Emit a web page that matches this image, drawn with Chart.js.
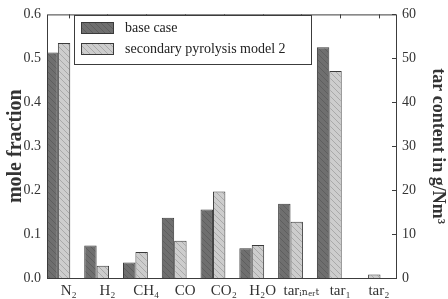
<!DOCTYPE html>
<html>
<head>
<meta charset="utf-8">
<script src="https://cdn.jsdelivr.net/npm/chart.js@4.4.0/dist/chart.umd.min.js"></script>
<style>
  html, body { margin: 0; padding: 0; background: #fff; }
  #wrap { width: 448px; height: 299px; }
</style>
</head>
<body>
<div id="wrap"><canvas id="chart"></canvas></div>
<script>
// categories (gas species + tar classes)
const categories = ['N₂', 'H₂', 'CH₄', 'CO', 'CO₂', 'H₂O', 'tarᵢₙₑᵣₜ', 'tar₁', 'tar₂'];
const gasNames = ['N₂', 'H₂', 'CH₄', 'CO', 'CO₂', 'H₂O'];
const tarNames = ['tarᵢₙₑᵣₜ', 'tar₁', 'tar₂'];

// mole fraction (left axis)
const gasBase = [0.513, 0.074, 0.035, 0.137, 0.156, 0.068];
const gasModel2 = [0.535, 0.028, 0.059, 0.085, 0.197, 0.075];

// tar content in g/Nm3 (right axis)
const tarBase = [16.9, 52.5, 0];
const tarModel2 = [12.8, 47.1, 0.8];

const seriesNames = ['base case', 'secondary pyrolysis model 2'];
const leftTicks = [0, 0.1, 0.2, 0.3, 0.4, 0.5, 0.6];
const rightTicks = [0, 10, 20, 30, 40, 50, 60];

const FONT = "'Liberation Serif', 'DejaVu Serif', serif";

// hatch patterns for the bars
function makePattern(bg, line) {
    const c = document.createElement('canvas');
    c.width = 6; c.height = 6;
    const g = c.getContext('2d');
    g.fillStyle = bg;
    g.fillRect(0, 0, 6, 6);
    g.strokeStyle = line;
    g.lineWidth = 1;
    g.beginPath();
    g.moveTo(0, 0); g.lineTo(6, 6);
    g.moveTo(-3, 3); g.lineTo(3, 9);
    g.moveTo(3, -3); g.lineTo(9, 3);
    g.stroke();
    return g.createPattern(c, 'repeat');
}
const darkFill = makePattern('#6f6f6f', '#5e5e5e');
const lightFill = makePattern('#cdcdcd', '#a9a9a9');

// full-length series, null where the other axis is used
function gasSeries(vals) {
    return categories.map((c, i) => ({ x: i, y: gasNames.indexOf(c) >= 0 ? vals[gasNames.indexOf(c)] : null }));
}
function tarSeries(vals) {
    return categories.map((c, i) => ({ x: i, y: tarNames.indexOf(c) >= 0 ? vals[tarNames.indexOf(c)] : null }));
}

const barStyle = { borderWidth: 1, borderColor: '#3a3a3a', categoryPercentage: 0.64, barPercentage: 1.0, skipNull: true };

// frame, inward ticks and legend box
const framePlugin = {
    id: 'frame',
    afterDraw(chart) {
        const ctx = chart.ctx;
        const a = chart.chartArea;
        ctx.save();
        ctx.strokeStyle = '#3c3c3c';
        ctx.lineWidth = 1;
        ctx.strokeRect(a.left + 0.5, a.top + 0.5, a.right - a.left, a.bottom - a.top);

        // top ticks at category positions
        const xl = chart.scales.xl;
        ctx.beginPath();
        categories.forEach((c, i) => {
            const px = Math.round(xl.getPixelForValue(i)) + 0.5;
            ctx.moveTo(px, a.top);
            ctx.lineTo(px, a.top + 4);
        });
        // right ticks
        const y2 = chart.scales.y2;
        rightTicks.forEach(v => {
            const py = Math.round(y2.getPixelForValue(v)) + 0.5;
            ctx.moveTo(a.right, py);
            ctx.lineTo(a.right - 4, py);
        });
        ctx.stroke();

        // legend
        const lx = 74, ly = 15, lw = 237, lh = 49;
        ctx.fillStyle = '#fff';
        ctx.fillRect(lx, ly, lw, lh);
        ctx.strokeRect(lx + 0.5, ly + 0.5, lw, lh);
        const fills = [darkFill, lightFill];
        seriesNames.forEach((name, i) => {
            const sy = ly + 7 + i * 21;
            ctx.fillStyle = fills[i];
            ctx.fillRect(lx + 7, sy, 32, 11);
            ctx.strokeStyle = '#3a3a3a';
            ctx.strokeRect(lx + 7.5, sy + 0.5, 32, 11);
            ctx.fillStyle = '#222';
            ctx.font = '14px ' + FONT;
            ctx.textBaseline = 'middle';
            ctx.fillText(name, lx + 51, sy + 6);
        });
        ctx.restore();
    }
};

new Chart(document.getElementById('chart'), {
    type: 'bar',
    data: {
        datasets: [
            Object.assign({ label: seriesNames[0], data: gasSeries(gasBase), backgroundColor: darkFill, yAxisID: 'y' }, barStyle),
            Object.assign({ label: seriesNames[1], data: gasSeries(gasModel2), backgroundColor: lightFill, yAxisID: 'y' }, barStyle),
            Object.assign({ label: seriesNames[0] + ' (tar)', data: tarSeries(tarBase), backgroundColor: darkFill, yAxisID: 'y2' }, barStyle),
            Object.assign({ label: seriesNames[1] + ' (tar)', data: tarSeries(tarModel2), backgroundColor: lightFill, yAxisID: 'y2' }, barStyle)
        ]
    },
    options: {
        responsive: true,
        maintainAspectRatio: false,
        animation: false,
        layout: { padding: { top: 10 } },
        plugins: { legend: { display: false }, tooltip: { enabled: false } },
        scales: {
            x: {
                type: 'linear', display: false, offset: false,
                grid: { offset: false },
                min: -0.28, max: 8.72
            },
            xl: {
                type: 'linear', position: 'bottom', offset: false,
                min: -0.56, max: 8.44,
                grid: { display: false, drawTicks: false, offset: false },
                border: { display: false },
                afterBuildTicks: s => { s.ticks = categories.map((c, i) => ({ value: i })); },
                afterFit: s => { s.height = 21; },
                ticks: {
                    autoSkip: false, maxRotation: 0, padding: 4,
                    font: { family: FONT, size: 15 }, color: '#333',
                    callback: v => categories[v]
                }
            },
            y: {
                position: 'left', min: 0, max: 0.6,
                grid: { display: false, drawTicks: false },
                border: { display: false },
                afterBuildTicks: s => { s.ticks = leftTicks.map(v => ({ value: v })); },
                afterFit: s => { s.width = 47; },
                ticks: {
                    padding: 6, font: { family: FONT, size: 14 }, color: '#333',
                    callback: v => v.toFixed(1)
                },
                title: {
                    display: true, text: 'mole fraction', color: '#333',
                    font: { family: FONT, size: 20, weight: 'bold' }, padding: { top: 4, bottom: 0 }
                }
            },
            y2: {
                position: 'right', min: 0, max: 60,
                grid: { display: false, drawTicks: false },
                border: { display: false },
                afterBuildTicks: s => { s.ticks = rightTicks.map(v => ({ value: v })); },
                afterFit: s => { s.width = 52; },
                ticks: {
                    padding: 6, font: { family: FONT, size: 14 }, color: '#333'
                },
                title: {
                    display: true, text: 'tar content in g/Nm³', color: '#333',
                    font: { family: FONT, size: 18, weight: 'bold' }, padding: { top: 0, bottom: 0 }
                }
            }
        }
    },
    plugins: [framePlugin]
});
</script>
</body>
</html>
